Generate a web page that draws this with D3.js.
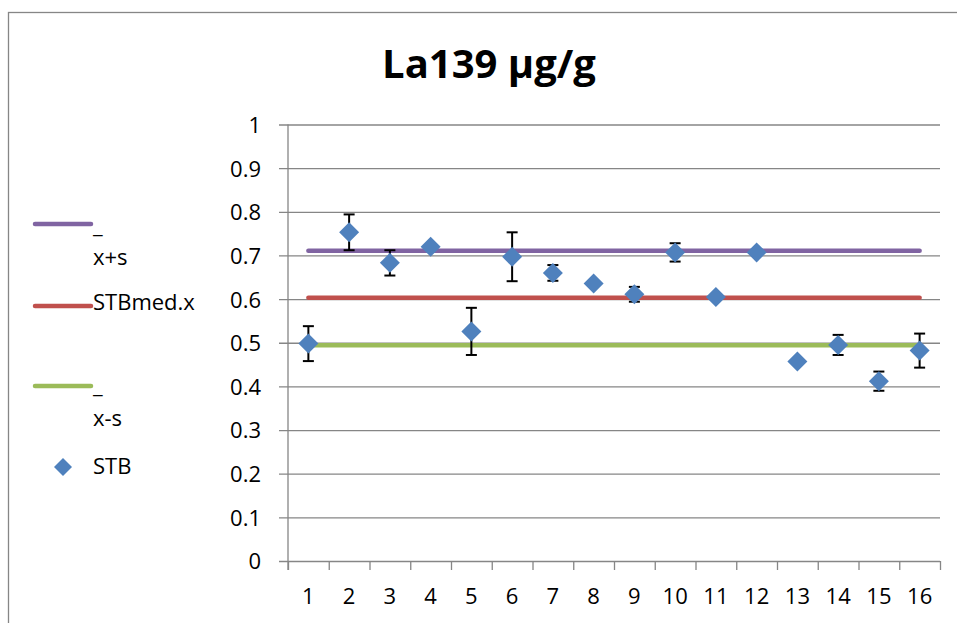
<!DOCTYPE html>
<html>
  <head>
    <meta charset="utf-8">
    <style>
      body { margin: 0; background: #fff; }
      text { font-family: "Open Sans", "Liberation Sans", sans-serif; fill: #000; }
    </style>
  </head>
  <body>
    <script src="https://d3js.org/d3.v7.min.js"></script>
    <script>
      // data
      var categories = ["1","2","3","4","5","6","7","8","9","10","11","12","13","14","15","16"];
      var stb = [0.498, 0.753, 0.683, 0.720, 0.526, 0.697, 0.660, 0.636, 0.611, 0.707, 0.605, 0.707, 0.457, 0.495, 0.412, 0.482];
      var stbErr = [0.040, 0.041, 0.029, 0, 0.054, 0.056, 0.018, 0, 0.017, 0.021, 0, 0, 0, 0.023, 0.022, 0.039];
      var upperLine = 0.711;   // x+s
      var medLine = 0.603;     // STBmed.x
      var lowerLine = 0.494;   // x-s
      var yTicks = [0, 0.1, 0.2, 0.3, 0.4, 0.5, 0.6, 0.7, 0.8, 0.9, 1];

      var W = 957, H = 623;
      var pLeft = 288, pRight = 940, pTop = 124.5, pBottom = 561;
      var gridCol = "#868686";
      var colUpper = "#8064A2", colMed = "#C0504D", colLower = "#9BBB59", colPts = "#4F81BD";

      var svg = d3.select("body").append("svg")
        .attr("width", W).attr("height", H);

      // outer chart border
      svg.append("rect")
        .attr("x", 8.5).attr("y", 12.5)
        .attr("width", 1000).attr("height", 1000)
        .attr("fill", "none").attr("stroke", gridCol).attr("stroke-width", 1.3);

      // title
      svg.append("text")
        .attr("x", 489).attr("y", 78)
        .attr("text-anchor", "middle")
        .style("font-size", "40px").style("font-weight", "bold")
        .text("La139 µg/g");

      var x = d3.scaleBand().domain(categories).range([pLeft, pRight]);
      var xb = d3.scaleLinear().domain([0, categories.length]).range([pLeft, pRight]);
      var y = d3.scaleLinear().domain([0, 1]).range([pBottom, pTop]);

      // gridlines
      svg.append("g")
        .attr("transform", "translate(" + (pLeft - 9) + ",0)")
        .call(d3.axisLeft(y).tickValues(yTicks).tickSize(-(pRight - pLeft + 9)).tickFormat(""))
        .call(function(g){
          g.select(".domain").remove();
          g.selectAll("line").attr("stroke", gridCol).attr("stroke-width", 1.3);
        });

      // y axis labels
      svg.append("g")
        .attr("transform", "translate(" + pLeft + ",0)")
        .call(d3.axisLeft(y).tickValues(yTicks).tickSize(0).tickPadding(27).tickFormat(d3.format("")))
        .call(function(g){
          g.select(".domain").remove();
          g.selectAll("text").style("font-size", "22px").style("font-family", null).attr("dy", "0.36em");
        });

      // y axis line
      svg.append("line")
        .attr("x1", pLeft).attr("x2", pLeft).attr("y1", pTop).attr("y2", pBottom + 9)
        .attr("stroke", gridCol).attr("stroke-width", 1.3);

      // x axis tick marks at category boundaries
      svg.append("g")
        .attr("transform", "translate(0," + pBottom + ")")
        .call(d3.axisBottom(xb).tickValues(d3.range(0, categories.length + 1)).tickSize(9).tickFormat(""))
        .call(function(g){
          g.select(".domain").remove();
          g.selectAll("line").attr("stroke", gridCol).attr("stroke-width", 1.3);
        });

      // x axis labels
      svg.append("g")
        .attr("transform", "translate(0," + pBottom + ")")
        .call(d3.axisBottom(x).tickSize(0).tickPadding(0))
        .call(function(g){
          g.select(".domain").remove();
          g.selectAll("text").style("font-size", "22px").style("font-family", null)
            .attr("y", 43).attr("dy", 0);
        });

      // reference lines
      var refs = [[upperLine, colUpper], [medLine, colMed], [lowerLine, colLower]];
      var first = categories[0], last = categories[categories.length - 1];
      svg.selectAll(".ref").data(refs).enter().append("line")
        .attr("x1", x(first) + x.bandwidth() / 2)
        .attr("x2", x(last) + x.bandwidth() / 2)
        .attr("y1", function(d){ return y(d[0]); })
        .attr("y2", function(d){ return y(d[0]); })
        .attr("stroke", function(d){ return d[1]; })
        .attr("stroke-width", 4.5)
        .attr("stroke-linecap", "round");

      // error bars
      var pts = categories.map(function(c, i){ return {c: c, v: stb[i], e: stbErr[i]}; });
      var eb = svg.selectAll(".err").data(pts.filter(function(d){ return d.e > 0; }))
        .enter().append("g").attr("class", "err")
        .attr("stroke", "#000").attr("stroke-width", 2);
      var cx = function(d){ return x(d.c) + x.bandwidth() / 2; };
      eb.append("line")
        .attr("x1", cx).attr("x2", cx)
        .attr("y1", function(d){ return y(d.v + d.e); })
        .attr("y2", function(d){ return y(d.v - d.e); });
      eb.append("line")
        .attr("x1", function(d){ return cx(d) - 5.5; }).attr("x2", function(d){ return cx(d) + 5.5; })
        .attr("y1", function(d){ return y(d.v + d.e); }).attr("y2", function(d){ return y(d.v + d.e); });
      eb.append("line")
        .attr("x1", function(d){ return cx(d) - 5.5; }).attr("x2", function(d){ return cx(d) + 5.5; })
        .attr("y1", function(d){ return y(d.v - d.e); }).attr("y2", function(d){ return y(d.v - d.e); });

      // markers
      var diamond = d3.symbol().type(d3.symbolSquare).size(200);
      svg.selectAll(".pt").data(pts).enter().append("path")
        .attr("d", diamond)
        .attr("transform", function(d){ return "translate(" + cx(d) + "," + y(d.v) + ") rotate(45)"; })
        .attr("fill", colPts);

      // legend
      var lg = svg.append("g");
      function legLine(yy, col){
        lg.append("line").attr("x1", 35).attr("x2", 91).attr("y1", yy).attr("y2", yy)
          .attr("stroke", col).attr("stroke-width", 4.5).attr("stroke-linecap", "round");
      }
      function legText(tx, yy){
        lg.append("text").attr("x", 93).attr("y", yy).style("font-size", "22px").text(tx);
      }
      legLine(224, colUpper);
      legText("_", 233);
      legText("x+s", 265);
      legLine(306, colMed);
      legText("STBmed.x", 310);
      legLine(386, colLower);
      legText("_", 393);
      legText("x-s", 426);
      lg.append("path")
        .attr("d", d3.symbol().type(d3.symbolSquare).size(162))
        .attr("transform", "translate(63,467) rotate(45)")
        .attr("fill", colPts);
      legText("STB", 474);
    </script>
  </body>
</html>
